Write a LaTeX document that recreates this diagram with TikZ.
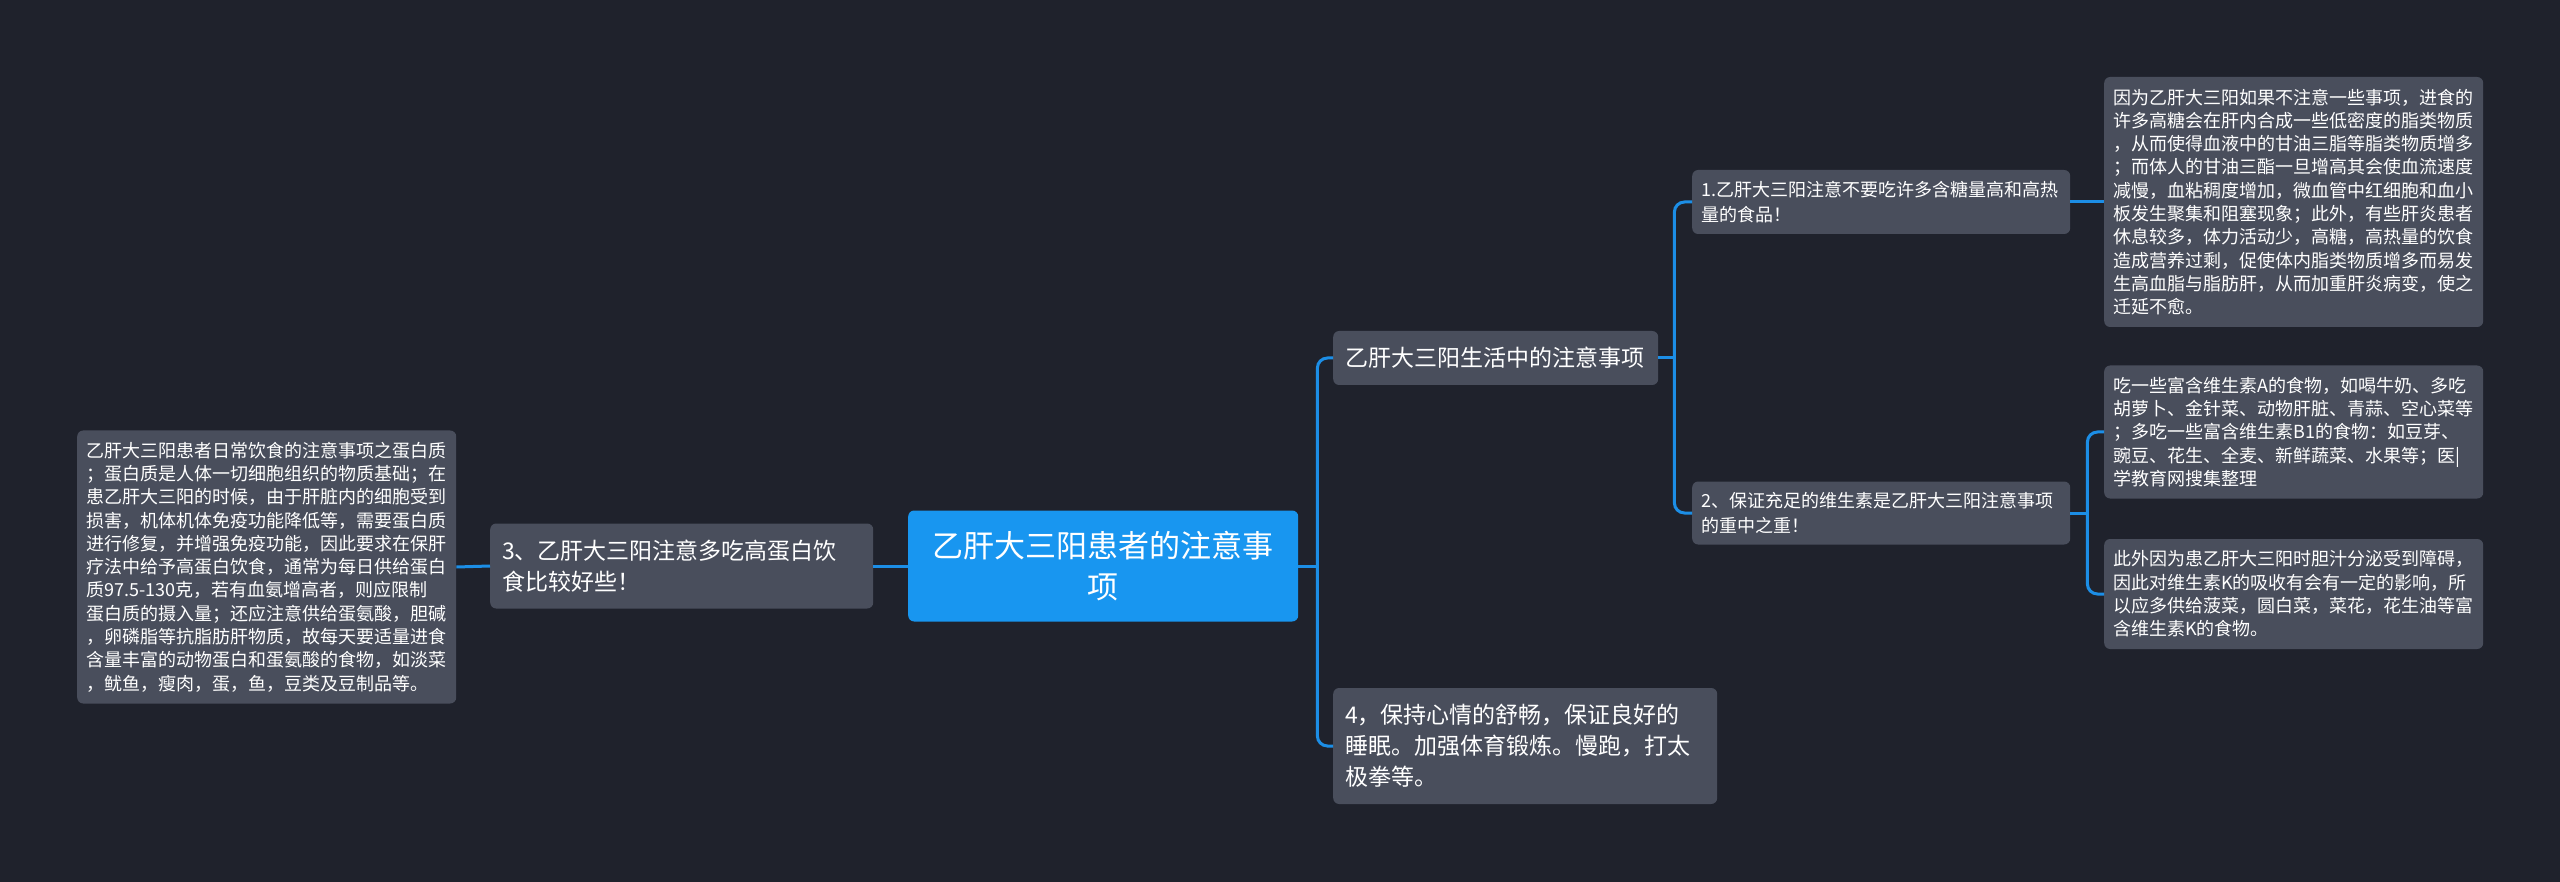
\documentclass[tikz,border=0pt]{standalone}
\usepackage{fontspec}
\setmainfont{Noto Sans CJK SC}
\definecolor{bgcol}{RGB}{31,34,44}
\definecolor{boxcol}{RGB}{73,78,92}
\definecolor{rootcol}{RGB}{24,150,240}
\definecolor{linkcol}{RGB}{28,142,230}
\tikzset{
    box/.style={fill=boxcol, rounded corners=6pt, text=white, align=left, anchor=west,
        inner xsep=9pt, inner ysep=0pt},
    leaf/.style={box, font=\fontsize{18}{23.3}\selectfont, text width=361pt},
    sub/.style={box, font=\fontsize{18}{25}\selectfont, text width=360pt},
    topic/.style={box, font=\fontsize{23}{31}\selectfont, inner xsep=12pt},
    link/.style={draw=linkcol, line width=3pt},
}
\begin{document}
\begin{tikzpicture}[x=1pt,y=-1pt]
                        \fill[bgcol] (0,0) rectangle (2560,882);
                        \node[box, fill=rootcol, align=center, font=\fontsize{31}{41}\selectfont,
                            inner xsep=12pt, text width=366pt, minimum height=111pt] (root) at (908,566)
                            {乙肝大三阳患者的注意事\\项};
                        \node[topic, text width=359pt, minimum height=85pt] (protein) at (490,566)
                            {3、乙肝大三阳注意多吃高蛋白饮\\食比较好些！};
                        \node[leaf, minimum height=273pt] (proteintxt) at (77,567)
                            {乙肝大三阳患者日常饮食的注意事项之蛋白质\\
                            ；蛋白质是人体一切细胞组织的物质基础；在\\
                            患乙肝大三阳的时候，由于肝脏内的细胞受到\\
                            损害，机体机体免疫功能降低等，需要蛋白质\\
                            进行修复，并增强免疫功能，因此要求在保肝\\
                            疗法中给予高蛋白饮食，通常为每日供给蛋白\\
                            质97.5-130克，若有血氨增高者，则应限制\\
                            蛋白质的摄入量；还应注意供给蛋氨酸，胆碱\\
                            ，卵磷脂等抗脂肪肝物质，故每天要适量进食\\
                            含量丰富的动物蛋白和蛋氨酸的食物，如淡菜\\
                            ，鱿鱼，瘦肉，蛋，鱼，豆类及豆制品等。};
                        \node[topic, text width=301pt, minimum height=54pt] (life) at (1333,358)
                            {乙肝大三阳生活中的注意事项};
                        \node[topic, text width=360pt, minimum height=116pt] (mood) at (1333,746)
                            {4，保持心情的舒畅，保证良好的\\睡眠。加强体育锻炼。慢跑，打太\\极拳等。};
                        \node[sub, minimum height=64pt] (sugar) at (1692,202)
                            {1.乙肝大三阳注意不要吃许多含糖量高和高热\\量的食品！};
                        \node[sub, minimum height=63pt] (vitamin) at (1692,513)
                            {2、保证充足的维生素是乙肝大三阳注意事项\\的重中之重！};
                        \node[leaf, minimum height=250pt] (sugartxt) at (2104,202)
                            {因为乙肝大三阳如果不注意一些事项，进食的\\
                            许多高糖会在肝内合成一些低密度的脂类物质\\
                            ，从而使得血液中的甘油三脂等脂类物质增多\\
                            ；而体人的甘油三酯一旦增高其会使血流速度\\
                            减慢，血粘稠度增加，微血管中红细胞和血小\\
                            板发生聚集和阻塞现象；此外，有些肝炎患者\\
                            休息较多，体力活动少，高糖，高热量的饮食\\
                            造成营养过剩，促使体内脂类物质增多而易发\\
                            生高血脂与脂肪肝，从而加重肝炎病变，使之\\
                            迁延不愈。};
                        \node[leaf, minimum height=133pt] (vita) at (2104,432)
                            {吃一些富含维生素A的食物，如喝牛奶、多吃\\
                            胡萝卜、金针菜、动物肝脏、青蒜、空心菜等\\
                            ；多吃一些富含维生素B1的食物：如豆芽、\\
                            豌豆、花生、全麦、新鲜蔬菜、水果等；医|\\
                            学教育网搜集整理};
                        \node[leaf, minimum height=110pt] (vitk) at (2104,594)
                            {此外因为患乙肝大三阳时胆汁分泌受到障碍，\\
                            因此对维生素K的吸收有会有一定的影响，所\\
                            以应多供给菠菜，圆白菜，菜花，花生油等富\\
                            含维生素K的食物。};
                        \coordinate (rootfork) at ([xshift=19pt]root.east);
                        \coordinate (lifefork) at ([xshift=16pt]life.east);
                        \coordinate (vitfork) at ([xshift=17pt]vitamin.east);
                        \draw[link] (root.west) -- (protein.east);
                        \draw[link] (protein.west) -- (proteintxt.east);
                        \draw[link] (root.east) -- (rootfork);
                        \draw[link, rounded corners=10pt] (life.west) -| (rootfork |- mood.west) -- (mood.west);
                        \draw[link] (life.east) -- (lifefork);
                        \draw[link, rounded corners=10pt] (sugar.west) -| (lifefork |- vitamin.west) -- (vitamin.west);
                        \draw[link] (sugar.east) -- (sugartxt.west);
                        \draw[link] (vitamin.east) -- (vitfork);
                        \draw[link, rounded corners=10pt] (vita.west) -| (vitfork |- vitk.west) -- (vitk.west);
                    \end{tikzpicture}
\end{document}
